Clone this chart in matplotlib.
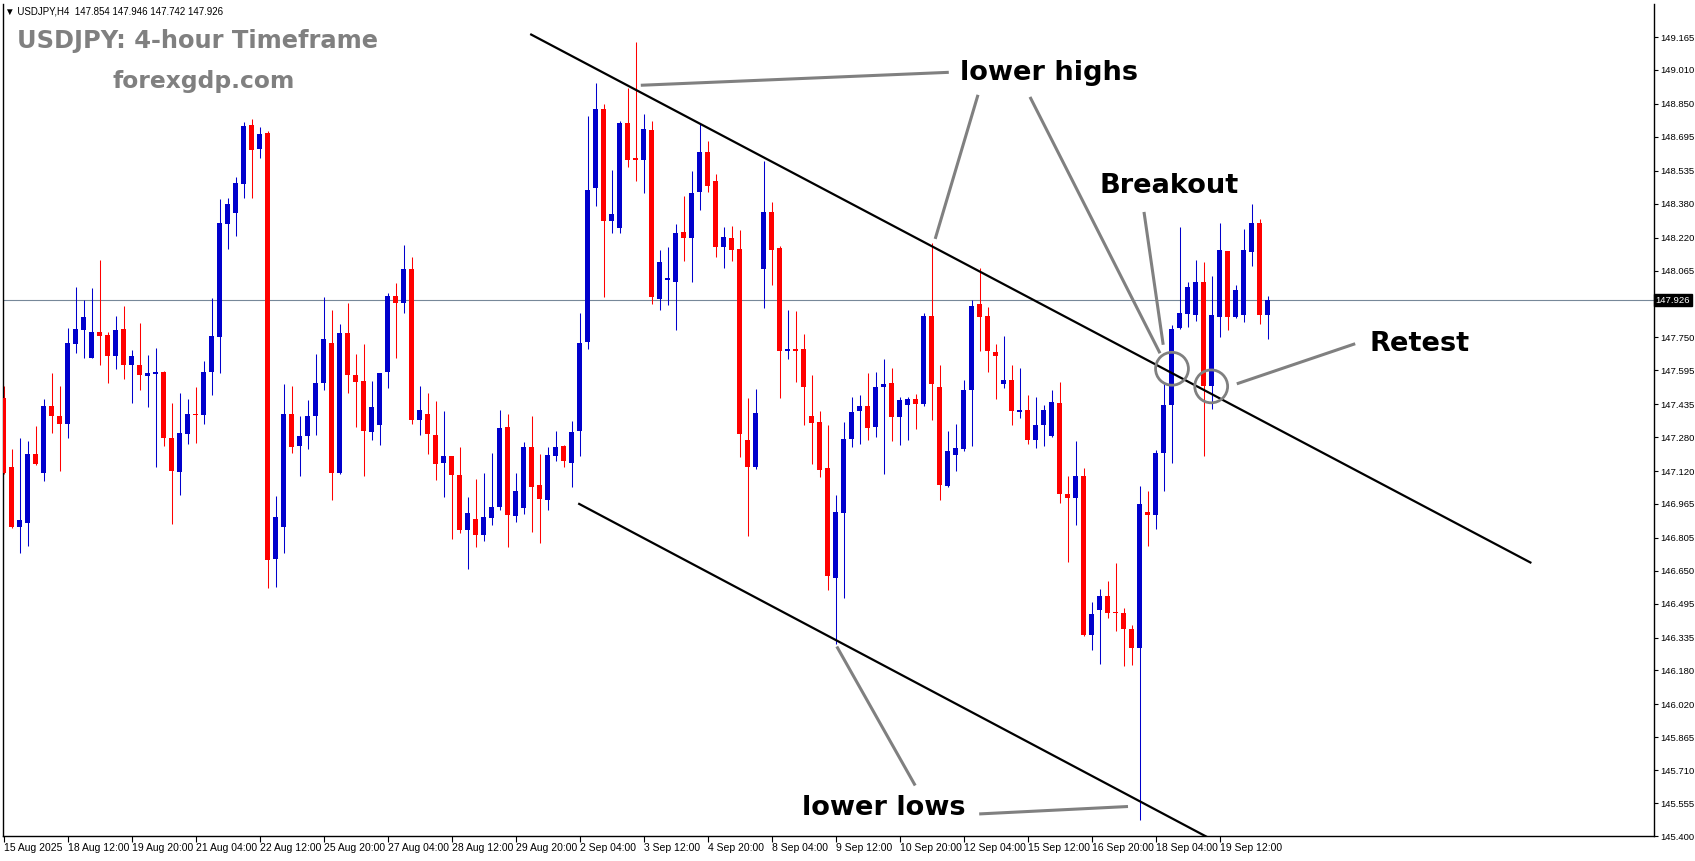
import matplotlib
matplotlib.use("Agg")
import matplotlib.pyplot as plt

# USDJPY H4 candles (oldest -> newest)
opens = [147.465, 147.140, 146.855, 146.873, 147.202, 147.109, 147.428, 147.381, 147.340, 147.721,
         147.787, 147.655, 147.776, 147.762, 147.660, 147.790, 147.622, 147.621, 147.566, 147.575,
         147.588, 147.277, 147.114, 147.293, 147.385, 147.382, 147.585, 147.754, 148.282, 148.334,
         148.473, 148.751, 148.640, 148.713, 146.704, 146.855, 147.390, 147.236, 147.283, 147.377,
         147.533, 147.724, 147.109, 147.771, 147.571, 147.545, 147.302, 147.335, 147.585, 147.946,
         147.914, 148.073, 147.359, 147.390, 147.291, 147.160, 147.189, 147.102, 146.843, 146.895,
         146.817, 146.901, 146.949, 147.328, 146.906, 146.944, 147.234, 147.052, 146.982, 147.189,
         147.239, 147.160, 147.311, 147.726, 148.456, 148.826, 148.296, 148.267, 148.760, 148.591,
         148.588, 148.728, 147.933, 148.018, 148.012, 148.247, 148.216, 148.433, 148.624, 148.488,
         148.174, 148.219, 148.167, 147.268, 147.137, 148.070, 148.342, 148.172, 147.684, 147.696,
         147.693, 147.378, 147.349, 147.133, 146.615, 146.921, 147.273, 147.401, 147.428, 147.326,
         147.514, 147.536, 147.373, 147.429, 147.461, 147.434, 147.852, 147.517, 147.048, 147.194,
         147.222, 147.500, 147.908, 147.852, 147.682, 147.528, 147.550, 147.396, 147.409, 147.264,
         147.335, 147.283, 147.442, 147.013, 146.991, 147.098, 146.349, 146.464, 146.533, 146.453,
         146.453, 146.377, 146.285, 146.928, 146.911, 147.203, 147.429, 147.796, 147.862, 147.853,
         148.012, 147.519, 147.848, 148.158, 147.848, 147.853, 148.154, 148.289, 147.854]
highs = [147.519, 147.225, 147.277, 147.263, 147.333, 147.461, 147.583, 147.523, 147.795, 147.988,
         147.927, 147.983, 148.115, 147.775, 147.852, 147.899, 147.691, 147.819, 147.665, 147.698,
         147.593, 147.439, 147.490, 147.461, 147.514, 147.640, 147.936, 148.404, 148.407, 148.506,
         148.765, 148.779, 148.742, 148.723, 147.001, 147.528, 147.523, 147.377, 147.453, 147.673,
         147.941, 147.881, 147.814, 147.910, 147.673, 147.720, 147.545, 147.583, 147.960, 148.007,
         148.186, 148.129, 147.519, 147.490, 147.448, 147.405, 147.189, 147.231, 146.996, 147.084,
         147.113, 147.203, 147.408, 147.391, 147.113, 147.258, 147.380, 147.202, 147.234, 147.310,
         147.244, 147.358, 147.865, 148.793, 148.949, 148.850, 148.539, 148.770, 148.925, 149.142,
         148.803, 148.770, 148.163, 148.174, 148.285, 148.417, 148.535, 148.756, 148.676, 148.521,
         148.271, 148.276, 148.257, 147.466, 147.508, 148.582, 148.389, 148.182, 147.880, 147.875,
         147.767, 147.574, 147.404, 147.335, 147.006, 147.349, 147.470, 147.480, 147.580, 147.588,
         147.649, 147.607, 147.470, 147.470, 147.484, 147.866, 148.195, 147.622, 147.307, 147.340,
         147.550, 147.927, 148.078, 147.894, 147.720, 147.757, 147.618, 147.607, 147.480, 147.470,
         147.432, 147.503, 147.541, 147.095, 147.260, 147.136, 146.504, 146.566, 146.603, 146.685,
         146.476, 146.396, 147.051, 147.027, 147.220, 147.531, 147.806, 148.271, 148.013, 148.115,
         148.106, 148.040, 148.289, 148.158, 147.997, 148.261, 148.379, 148.308, 147.946]
lows = [147.107, 146.850, 146.734, 146.765, 147.150, 147.071, 147.297, 147.118, 147.274, 147.674,
        147.655, 147.652, 147.618, 147.533, 147.599, 147.552, 147.439, 147.500, 147.420, 147.137,
        147.236, 146.869, 147.005, 147.246, 147.250, 147.340, 147.476, 147.580, 148.167, 148.230,
        148.409, 148.409, 148.597, 146.569, 146.574, 146.732, 147.205, 147.095, 147.222, 147.288,
        147.500, 146.982, 147.107, 147.490, 147.326, 147.095, 147.264, 147.241, 147.509, 147.651,
        147.863, 147.340, 147.288, 147.198, 147.076, 146.996, 146.801, 146.828, 146.656, 146.760,
        146.788, 146.864, 146.934, 146.760, 146.878, 146.916, 146.835, 146.779, 146.934, 147.165,
        147.138, 147.043, 147.189, 147.697, 148.371, 147.938, 148.244, 148.244, 148.555, 148.489,
        148.432, 147.907, 147.877, 147.901, 147.787, 148.112, 148.009, 148.348, 148.437, 148.127,
        148.079, 148.112, 147.185, 146.812, 147.128, 147.886, 147.999, 147.462, 147.646, 147.538,
        147.335, 147.152, 147.090, 146.558, 146.304, 146.520, 147.232, 147.246, 147.264, 147.279,
        147.104, 147.260, 147.241, 147.264, 147.316, 147.425, 147.359, 146.982, 147.045, 147.118,
        147.213, 147.236, 147.684, 147.585, 147.458, 147.509, 147.335, 147.368, 147.246, 147.227,
        147.236, 147.280, 146.968, 146.690, 146.864, 146.341, 146.275, 146.209, 146.426, 146.365,
        146.200, 146.205, 145.474, 146.765, 146.845, 147.024, 147.156, 147.790, 147.801, 147.829,
        147.192, 147.413, 147.754, 147.787, 147.839, 147.820, 148.084, 147.815, 147.742]
closes = [147.110, 146.855, 146.891, 147.202, 147.154, 147.428, 147.377, 147.340, 147.724, 147.790,
          147.847, 147.776, 147.757, 147.660, 147.786, 147.622, 147.663, 147.571, 147.583, 147.588,
          147.274, 147.118, 147.300, 147.390, 147.382, 147.588, 147.757, 148.290, 148.379, 148.478,
          148.746, 148.635, 148.709, 146.699, 146.905, 147.390, 147.231, 147.286, 147.381, 147.536,
          147.743, 147.109, 147.771, 147.571, 147.538, 147.307, 147.423, 147.583, 147.946, 147.914,
          148.073, 147.359, 147.409, 147.293, 147.154, 147.189, 147.099, 146.843, 146.923, 146.820,
          146.905, 146.952, 147.321, 146.911, 147.027, 147.234, 147.043, 146.986, 147.197, 147.234,
          147.165, 147.305, 147.724, 148.445, 148.826, 148.296, 148.333, 148.760, 148.588, 148.588,
          148.732, 147.940, 148.106, 148.031, 148.243, 148.216, 148.431, 148.624, 148.461, 148.174,
          148.224, 148.160, 147.293, 147.137, 147.395, 148.342, 148.160, 147.684, 147.696, 147.684,
          147.514, 147.345, 147.123, 146.624, 146.926, 147.273, 147.400, 147.428, 147.321, 147.517,
          147.531, 147.373, 147.456, 147.461, 147.434, 147.852, 147.528, 147.053, 147.216, 147.230,
          147.503, 147.899, 147.844, 147.684, 147.660, 147.550, 147.401, 147.409, 147.264, 147.338,
          147.409, 147.447, 147.010, 146.991, 147.098, 146.349, 146.448, 146.533, 146.449, 146.449,
          146.374, 146.285, 146.966, 146.911, 147.206, 147.432, 147.790, 147.866, 147.988, 148.012,
          147.519, 147.856, 148.162, 147.848, 147.974, 148.162, 148.289, 147.853, 147.926]

date_labels = ["15 Aug 2025", "18 Aug 12:00", "19 Aug 20:00", "21 Aug 04:00", "22 Aug 12:00",
               "25 Aug 20:00", "27 Aug 04:00", "28 Aug 12:00", "29 Aug 20:00", "2 Sep 04:00",
               "3 Sep 12:00", "4 Sep 20:00", "8 Sep 04:00", "9 Sep 12:00", "10 Sep 20:00",
               "12 Sep 04:00", "15 Sep 12:00", "16 Sep 20:00", "18 Sep 04:00", "19 Sep 12:00"]
bars_per_label = 8

price_ticks = [145.400, 145.555, 145.710, 145.865, 146.020, 146.180, 146.335, 146.495, 146.650,
               146.805, 146.965, 147.120, 147.280, 147.435, 147.595, 147.750, 148.065, 148.220,
               148.380, 148.535, 148.695, 148.850, 149.010, 149.165]
last_price = 147.926

# channel lines (bar index, price)
upper_channel = [(65.9, 149.177), (190.8, 146.689)]
lower_channel = [(71.9, 146.965), (151.4, 145.375)]

# grey pointer lines and circles for the annotations
pointers = [
    [(118.1, 148.999), (79.6, 148.938)],
    [(121.75, 148.893), (116.4, 148.214)],
    [(128.25, 148.883), (144.5, 147.675)],
    [(142.5, 148.341), (144.9, 147.715)],
    [(168.9, 147.720), (154.1, 147.531)],
    [(104.1, 146.293), (113.9, 145.638)],
    [(121.9, 145.504), (140.5, 145.539)],
]
circles = [(146.0, 147.602), (150.9, 147.519)]
notes = [("lower highs", 130.6, 148.994), ("Breakout", 145.7, 148.464),
         ("Retest", 176.9, 147.721), ("lower lows", 110.0, 145.532)]

BULL, BEAR = "#0000cc", "#ff0000"
W, H = 1695, 861
TICKFONT = "Liberation Sans"

fig = plt.figure(figsize=(W / 100, H / 100), dpi=100)
ax = fig.add_axes([2.7 / W, 1 - 836 / H, (1654 - 2.7) / W, (836 - 4) / H])

n = len(opens)
xs = list(range(n))
cols = [BULL if c >= o else BEAR for o, c in zip(opens, closes)]
ax.vlines(xs, lows, highs, colors=cols, linewidth=0.75, zorder=2)
bottoms = [min(o, c) for o, c in zip(opens, closes)]
heights = [max(abs(c - o), 0.005) for o, c in zip(opens, closes)]
ax.bar(xs, heights, bottom=bottoms, width=0.625, color=cols, linewidth=0, zorder=3)

ax.axhline(last_price, color="#778899", lw=0.8, zorder=1)

for (x0, y0), (x1, y1) in [upper_channel, lower_channel]:
    ax.plot([x0, x1], [y0, y1], color="black", lw=1.6, zorder=4)
for (x0, y0), (x1, y1) in pointers:
    ax.plot([x0, x1], [y0, y1], color="#808080", lw=2.2, solid_capstyle="butt", zorder=5)
ax.scatter([c[0] for c in circles], [c[1] for c in circles], s=560, facecolors="none",
           edgecolors="#808080", linewidths=2.0, zorder=6)

for txt, x, y in notes:
    ax.text(x, y, txt, ha="center", va="center", fontsize=19.6, fontweight="bold",
            family="DejaVu Sans", color="black", zorder=7)

ax.text(24.25, 149.114, "USDJPY: 4-hour Timeframe", ha="center", va="baseline", fontsize=17.4,
        fontweight="bold", family="DejaVu Sans", color="#808080", zorder=7)
ax.text(25.0, 148.924, "forexgdp.com", ha="center", va="baseline", fontsize=16.8,
        fontweight="bold", family="DejaVu Sans", color="#808080", zorder=7)
fig.text(5 / W, 1 - 11 / H, "\u25bc USDJPY,H4  147.854 147.946 147.742 147.926", fontsize=7,
         family=[TICKFONT, "DejaVu Sans"], va="center", ha="left")

ax.set_xlim(-0.16, 206.25)
ax.set_ylim(145.40, 149.321)

ax.yaxis.tick_right()
ax.set_yticks(price_ticks)
ax.set_yticklabels([f"{v:.3f}" for v in price_ticks])
ax.set_xticks([k * bars_per_label for k in range(len(date_labels))])
ax.set_xticklabels(date_labels, ha="left")
ax.tick_params(axis="y", direction="out", length=3, width=0.8, pad=1.2, labelsize=6.8)
ax.tick_params(axis="x", direction="out", length=4, width=0.8, pad=1, labelsize=7.5)
for lab in ax.get_xticklabels() + ax.get_yticklabels():
    lab.set_family(TICKFONT)
ax.spines["top"].set_visible(False)
for s in ("left", "right", "bottom"):
    ax.spines[s].set_linewidth(1.0)

ax.text(1.001, last_price, f"{last_price:.3f}", transform=ax.get_yaxis_transform(),
        va="center", ha="left", fontsize=6.8, family=TICKFONT, color="white",
        bbox=dict(facecolor="black", edgecolor="black", pad=1.0), clip_on=False)

fig.savefig("out.png", dpi=100)
